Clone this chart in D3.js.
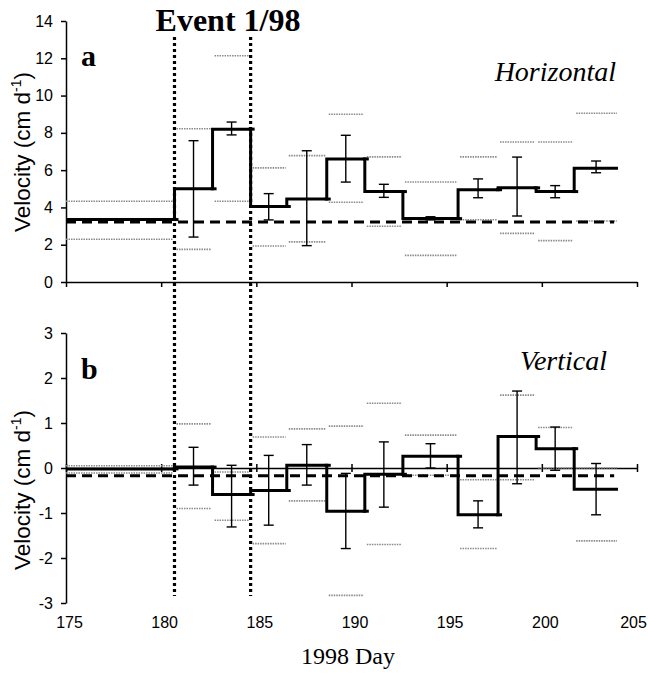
<!DOCTYPE html>
<html>
<head>
<meta charset="utf-8">
<script src="https://cdn.jsdelivr.net/npm/d3@7"></script>
<style>
	body { margin: 0; background: #fff; }
	.axis text { font-family: "Liberation Sans", Arial, sans-serif; font-size: 16px; fill: #000; }
	.axis path, .axis line { stroke: #000; stroke-width: 1.5; }
	.serif { font-family: "Liberation Serif", "Times New Roman", serif; fill: #000; }
	.sans { font-family: "Liberation Sans", Arial, sans-serif; fill: #000; }
</style>
</head>
<body>
<svg id="chart" width="648" height="674"></svg>
<script>
// 1. the data
// interval boundaries between surveys (1998 day)
const dayBounds = [175, 180.7, 182.7, 184.7, 186.6, 188.7, 190.7, 192.7, 195.6, 197.7, 199.7, 201.7, 204]
// event days (dotted lines)
const eventDays = [180.7, 184.7]
const xTicks = [175, 180, 185, 190, 195, 200, 205]

// horizontal velocity per interval (cm/d)
const hVel = [3.35, 5.0, 8.2, 4.05, 4.45, 6.6, 4.85, 3.4, 4.95, 5.05, 4.85, 6.1]
const hErrHi = [null, 7.58, 8.58, 4.74, 7.04, 7.87, 5.24, 3.5, 5.53, 6.7, 5.17, 6.49]
const hErrLo = [null, 2.41, 7.89, 3.33, 1.95, 5.36, 4.54, 3.33, 4.52, 3.54, 4.52, 5.86]
const hMax = [4.33, 8.22, 12.14, 6.12, 6.78, 9.0, 6.71, 5.36, 6.71, 7.51, 7.51, 9.05]
const hMin = [2.29, 1.75, 4.33, 1.93, 2.15, 4.28, 2.99, 1.43, 3.34, 2.61, 2.22, 3.27]
const hMean = 3.22
const hTicks = [0, 2, 4, 6, 8, 10, 12, 14]

// vertical velocity per interval (cm/d)
const vVel = [-0.02, 0.02, -0.59, -0.5, 0.06, -0.96, -0.14, 0.26, -1.04, 0.7, 0.43, -0.47]
const vErrHi = [null, 0.46, 0.06, 0.28, 0.52, -0.12, 0.58, 0.54, -0.73, 1.71, 0.91, 0.1]
const vErrLo = [null, -0.38, -1.31, -1.27, -0.38, -1.79, -0.87, 0.0, -1.33, -0.35, -0.05, -1.04]
const vMax = [0.05, 0.98, -0.09, 0.69, 0.87, 0.93, 1.44, 0.73, -0.26, 1.62, 0.9, 0.0]
const vMin = [-0.11, -0.9, -1.16, -1.68, -0.73, -2.83, -1.7, -0.16, -1.79, -0.26, 0.0, -1.62]
const vMean = -0.17
const vTicks = [-3, -2, -1, 0, 1, 2, 3]

// build interval records
function buildIntervals(vel, hi, lo, max, min) {
	return vel.map((v, i) => ({
		start: dayBounds[i],
		end: dayBounds[i + 1],
		mid: (dayBounds[i] + dayBounds[i + 1]) / 2,
		vel: v,
		hi: hi[i],
		lo: lo[i],
		max: max[i],
		min: min[i]
	}))
}

const svg = d3.select("#chart")

// 2. scales
let xScale = d3.scaleLinear().domain([175, 205]).range([66, 637])
let yTop = d3.scaleLinear().domain([0, 14]).range([282, 21])
let yBot = d3.scaleLinear().domain([-3, 3]).range([603, 333])

// plain hyphen minus like the original
const fmt = d => String(d)

// draw one panel
function drawPanel(data, yScale, mean) {
	const g = svg.append("g")

	// range lines (gray, dotted)
	const rangeLine = (key) => g.selectAll(null)
		.data(data)
		.join("line")
		.attr("x1", d => xScale(d.start) + (d.start === 175 ? 0 : 2))
		.attr("x2", d => xScale(d.end) - 1)
		.attr("y1", d => yScale(d[key]))
		.attr("y2", d => yScale(d[key]))
		.attr("stroke", "#8a8a8a")
		.attr("stroke-width", 1.6)
		.attr("stroke-dasharray", "1.5,1")
	rangeLine("max")
	rangeLine("min")

	// mean line (black dashed)
	g.append("line")
		.attr("x1", xScale(175))
		.attr("x2", xScale(203.8))
		.attr("y1", yScale(mean))
		.attr("y2", yScale(mean))
		.attr("stroke", "#000")
		.attr("stroke-width", 3)
		.attr("stroke-dasharray", "10,6")

	// error bars
	const withErr = data.filter(d => d.hi !== null)
	g.selectAll(null)
		.data(withErr)
		.join("line")
		.attr("x1", d => xScale(d.mid))
		.attr("x2", d => xScale(d.mid))
		.attr("y1", d => yScale(d.hi))
		.attr("y2", d => yScale(d.lo))
		.attr("stroke", "#000")
		.attr("stroke-width", 1.4)
	const cap = (key) => g.selectAll(null)
		.data(withErr)
		.join("line")
		.attr("x1", d => xScale(d.mid) - 5)
		.attr("x2", d => xScale(d.mid) + 5)
		.attr("y1", d => yScale(d[key]))
		.attr("y2", d => yScale(d[key]))
		.attr("stroke", "#000")
		.attr("stroke-width", 1.4)
	cap("hi")
	cap("lo")

	// step line
	let pts = data.map(d => [d.start, d.vel])
	pts.push([data[data.length - 1].end, data[data.length - 1].vel])
	const line = d3.line()
		.x(d => xScale(d[0]))
		.y(d => yScale(d[1]))
		.curve(d3.curveStepAfter)
	g.append("path")
		.attr("d", line(pts))
		.attr("fill", "none")
		.attr("stroke", "#000")
		.attr("stroke-width", 3)

	// small overhang at the end of each level
	g.selectAll(null)
		.data(data.slice(0, -1))
		.join("line")
		.attr("x1", d => xScale(d.end) - 2)
		.attr("x2", d => xScale(d.end) + 4)
		.attr("y1", d => yScale(d.vel))
		.attr("y2", d => yScale(d.vel))
		.attr("stroke", "#000")
		.attr("stroke-width", 3)
}

const hData = buildIntervals(hVel, hErrHi, hErrLo, hMax, hMin)
const vData = buildIntervals(vVel, vErrHi, vErrLo, vMax, vMin)

// 3. axes
// top panel x axis (no labels)
svg.append("g")
	.attr("class", "axis")
	.attr("transform", "translate(0," + yTop(0) + ")")
	.call(d3.axisBottom(xScale).tickValues(xTicks).tickFormat("").tickSize(5).tickSizeOuter(0))

svg.append("g")
	.attr("class", "axis")
	.attr("transform", "translate(" + xScale(175) + ",0)")
	.call(d3.axisLeft(yTop).tickValues(hTicks).tickFormat(fmt).tickSize(5).tickSizeOuter(0).tickPadding(8))

// bottom panel zero line with crossing ticks
let zeroAxis = svg.append("g")
	.attr("class", "axis")
	.attr("transform", "translate(0," + yBot(0) + ")")
	.call(d3.axisBottom(xScale).tickValues(xTicks).tickFormat("").tickSize(4).tickSizeOuter(0))
zeroAxis.selectAll(".tick line").attr("y1", -4)

svg.append("g")
	.attr("class", "axis")
	.attr("transform", "translate(" + xScale(175) + ",0)")
	.call(d3.axisLeft(yBot).tickValues(vTicks).tickFormat(fmt).tickSize(5).tickSizeOuter(0).tickPadding(8))

// day labels along the bottom
let dayAxis = svg.append("g")
	.attr("class", "axis")
	.attr("transform", "translate(0," + yBot(-3) + ")")
	.call(d3.axisBottom(xScale).tickValues(xTicks).tickFormat(fmt).tickSize(0).tickPadding(14))
dayAxis.select(".domain").remove()
dayAxis.selectAll("text").attr("dx", d => d === 205 ? -4 : 3)

drawPanel(hData, yTop, hMean)
drawPanel(vData, yBot, vMean)

// event lines (dotted, spanning both panels)
svg.selectAll(null)
	.data(eventDays)
	.join("line")
	.attr("x1", d => xScale(d))
	.attr("x2", d => xScale(d))
	.attr("y1", 37)
	.attr("y2", 596)
	.attr("stroke", "#000")
	.attr("stroke-width", 3.2)
	.attr("stroke-dasharray", "3,3")

// 4. texts
svg.append("text").attr("class", "serif")
	.attr("x", 228).attr("y", 31)
	.attr("text-anchor", "middle")
	.style("font-size", "32px").style("font-weight", "bold")
	.text("Event 1/98")

svg.append("text").attr("class", "serif")
	.attr("x", 81).attr("y", 66)
	.style("font-size", "30px").style("font-weight", "bold")
	.text("a")

svg.append("text").attr("class", "serif")
	.attr("x", 81).attr("y", 379)
	.style("font-size", "30px").style("font-weight", "bold")
	.text("b")

svg.append("text").attr("class", "serif")
	.attr("x", 616).attr("y", 81)
	.attr("text-anchor", "end")
	.style("font-size", "28px").style("font-style", "italic")
	.text("Horizontal")

svg.append("text").attr("class", "serif")
	.attr("x", 607).attr("y", 370)
	.attr("text-anchor", "end")
	.style("font-size", "28px").style("font-style", "italic")
	.text("Vertical")

svg.append("text").attr("class", "serif")
	.attr("x", 348).attr("y", 664)
	.attr("text-anchor", "middle")
	.style("font-size", "24px")
	.text("1998 Day")

// y axis titles with superscript
function yTitle(cy) {
	let t = svg.append("text").attr("class", "sans")
		.attr("transform", "translate(30," + cy + ") rotate(-90)")
		.attr("text-anchor", "middle")
		.style("font-size", "22.5px")
	t.append("tspan").text("Velocity (cm d")
	t.append("tspan").attr("dy", -9).style("font-size", "14px").text("-1")
	t.append("tspan").attr("dy", 9).text(")")
}
yTitle(152)
yTitle(490)
</script>
</body>
</html>
